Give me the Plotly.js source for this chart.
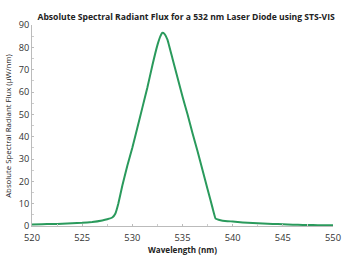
<!DOCTYPE html>
<html>
<head>
<meta charset="utf-8">
<script src="https://cdn.plot.ly/plotly-3.0.1.min.js"></script>
<style>html,body{margin:0;padding:0;background:#fff;}#chart{width:350px;height:256px;}</style>
</head>
<body>
<div id="chart"></div>
<script>
const wavelength = [520,521,522,523,524,525,526,527,527.5,528,528.3,528.6,529,529.5,530,530.5,531,531.5,532,532.5,532.8,533,533.2,533.5,534,534.5,535,535.5,536,536.5,537,537.5,538,538.3,538.6,539,540,541,542,543,544,545,546,547,548,549,550];
const flux = [0.7,0.8,0.9,1.0,1.2,1.4,1.8,2.5,3.0,3.8,5.5,10,18,27,35,44,53,62,72,81,85,86.5,86,83.5,75,66.5,58,50,41.5,33.5,25,16.5,8,3.3,2.8,2.4,2.0,1.6,1.3,1.1,0.9,0.8,0.6,0.5,0.4,0.35,0.3];
const xTicks = [520,525,530,535,540,545,550];
const yTicks = [0,10,20,30,40,50,60,70,80,90];
const chartTitle = 'Absolute Spectral Radiant Flux for a 532 nm Laser Diode using STS-VIS';
const xTitle = 'Wavelength (nm)';
const yTitle = 'Absolute Spectral Radiant Flux (µW/nm)';

const FONT = 'Open Sans, sans-serif';
Plotly.newPlot('chart', [{
  x: wavelength, y: flux, type: 'scatter', mode: 'lines',
  line: {color: '#2a9a5c', width: 2, shape: 'spline', smoothing: 0.3},
  hoverinfo: 'none'
}], {
  width: 350, height: 256,
  margin: {l: 32, r: 17, t: 25, b: 30},
  paper_bgcolor: '#fff', plot_bgcolor: '#fff',
  showlegend: false,
  title: {text: '<b>' + chartTitle + '</b>', font: {family: FONT, size: 8.6, color: '#222'}, xref: 'paper', x: 0.512, xanchor: 'center', yref: 'container', y: 0.935, yanchor: 'middle'},
  xaxis: {
    range: [520, 550], tickvals: xTicks, ticktext: xTicks.map(String),
    showgrid: false, zeroline: false, showline: true, linecolor: '#bbb', linewidth: 1,
    ticks: 'inside', ticklen: 2, tickcolor: '#bbb',
    minor: {dtick: 2.5, ticks: 'inside', ticklen: 2, tickcolor: '#ccc'},
    tickfont: {family: FONT, size: 9.3, color: '#333'},
    ticklabelstandoff: 3,
    title: {text: '<b>' + xTitle + '</b>', font: {family: FONT, size: 8.1, color: '#222'}, standoff: 0}
  },
  yaxis: {
    range: [0, 90], tickvals: yTicks, ticktext: yTicks.map(String),
    showgrid: false, zeroline: false, showline: true, linecolor: '#bbb', linewidth: 1,
    ticks: 'inside', ticklen: 2, tickcolor: '#bbb',
    minor: {dtick: 5, ticks: 'inside', ticklen: 2, tickcolor: '#ccc'},
    tickfont: {family: FONT, size: 9.2, color: '#333'}
  },
  annotations: [{
    text: yTitle, textangle: -90, xref: 'paper', yref: 'paper',
    x: -0.082, y: 0.5, xanchor: 'center', yanchor: 'middle', showarrow: false,
    font: {family: FONT, size: 7.8, color: '#222'}
  }]
}, {displayModeBar: false, staticPlot: true});
</script>
</body>
</html>
